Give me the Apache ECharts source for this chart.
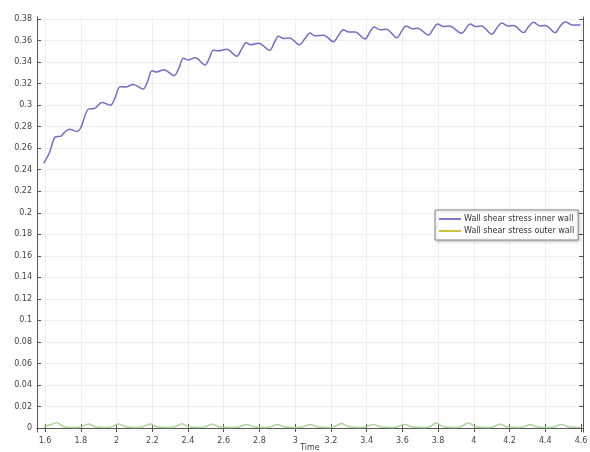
<!DOCTYPE html>
<html>
<head>
<meta charset="utf-8">
<script src="https://cdn.jsdelivr.net/npm/echarts@6/dist/echarts.min.js"></script>
<style>
  html, body { margin: 0; padding: 0; background: #ffffff; }
  #chart { width: 590px; height: 452px; }
</style>
</head>
<body>
<div id="chart"></div>
<script>
// Wall shear stress over time, inner and outer wall
const seriesNames = ['Wall shear stress inner wall', 'Wall shear stress outer wall'];

const xTicks = [1.6, 1.8, 2, 2.2, 2.4, 2.6, 2.8, 3, 3.2, 3.4, 3.6, 3.8, 4, 4.2, 4.4, 4.6];
const yTicks = [0, 0.02, 0.04, 0.06, 0.08, 0.1, 0.12, 0.14, 0.16, 0.18, 0.2,
                0.22, 0.24, 0.26, 0.28, 0.3, 0.32, 0.34, 0.36, 0.38];

// inner wall: [time, stress]
const innerWall = [
  [1.593, 0.2462], [1.625, 0.2560], [1.658, 0.2705], [1.690, 0.2712], [1.705, 0.2740],
  [1.736, 0.2776], [1.779, 0.2756], [1.800, 0.2790], [1.845, 0.2965], [1.875, 0.2968],
  [1.919, 0.3025], [1.966, 0.3000], [1.990, 0.3060], [2.021, 0.3172], [2.050, 0.3168],
  [2.093, 0.3192], [2.149, 0.3150], [2.172, 0.3210], [2.199, 0.3320], [2.225, 0.3308],
  [2.265, 0.3330], [2.322, 0.3275], [2.348, 0.3340], [2.375, 0.3436], [2.400, 0.3420],
  [2.440, 0.3440], [2.496, 0.3374], [2.520, 0.3440], [2.542, 0.3510], [2.570, 0.3505],
  [2.617, 0.3520], [2.673, 0.3455], [2.700, 0.3520], [2.726, 0.3580], [2.750, 0.3560],
  [2.795, 0.3575], [2.857, 0.3510], [2.883, 0.3580], [2.907, 0.3640], [2.935, 0.3620],
  [2.968, 0.3625], [3.024, 0.3560], [3.055, 0.3620], [3.083, 0.3670], [3.110, 0.3645],
  [3.158, 0.3650], [3.214, 0.3590], [3.243, 0.3650], [3.270, 0.3700], [3.300, 0.3680],
  [3.335, 0.3680], [3.391, 0.3615], [3.418, 0.3680], [3.442, 0.3727], [3.475, 0.3700],
  [3.510, 0.3705], [3.569, 0.3627], [3.597, 0.3690], [3.621, 0.3736], [3.655, 0.3710],
  [3.685, 0.3715], [3.746, 0.3652], [3.773, 0.3710], [3.797, 0.3755], [3.830, 0.3730],
  [3.862, 0.3735], [3.933, 0.3668], [3.957, 0.3715], [3.979, 0.3755], [4.010, 0.3730],
  [4.042, 0.3735], [4.100, 0.3660], [4.130, 0.3720], [4.157, 0.3764], [4.190, 0.3736],
  [4.222, 0.3740], [4.278, 0.3674], [4.307, 0.3730], [4.334, 0.3770], [4.370, 0.3736],
  [4.400, 0.3740], [4.455, 0.3674], [4.484, 0.3735], [4.511, 0.3776], [4.550, 0.3745],
  [4.597, 0.3745]
];

// outer wall: [time, stress]
const outerWall = [
  [1.593, 0.0012], [1.630, 0.0030], [1.667, 0.0050], [1.700, 0.0014], [1.750, 0.0005],
  [1.800, 0.0010], [1.845, 0.0038], [1.880, 0.0012], [1.930, 0.0005], [1.970, 0.0010],
  [2.013, 0.0038], [2.050, 0.0012], [2.100, 0.0005], [2.145, 0.0010], [2.190, 0.0038],
  [2.225, 0.0012], [2.280, 0.0005], [2.325, 0.0010], [2.367, 0.0040], [2.400, 0.0012],
  [2.455, 0.0005], [2.495, 0.0010], [2.535, 0.0036], [2.570, 0.0012], [2.630, 0.0005],
  [2.685, 0.0010], [2.730, 0.0032], [2.765, 0.0012], [2.820, 0.0005], [2.860, 0.0010],
  [2.900, 0.0032], [2.935, 0.0012], [2.990, 0.0005], [3.040, 0.0010], [3.083, 0.0032],
  [3.120, 0.0012], [3.170, 0.0005], [3.215, 0.0010], [3.260, 0.0042], [3.295, 0.0014],
  [3.350, 0.0005], [3.395, 0.0010], [3.438, 0.0034], [3.475, 0.0012], [3.530, 0.0005],
  [3.570, 0.0010], [3.615, 0.0034], [3.650, 0.0012], [3.705, 0.0005], [3.750, 0.0010],
  [3.790, 0.0046], [3.825, 0.0014], [3.880, 0.0005], [3.925, 0.0010], [3.970, 0.0048],
  [4.005, 0.0014], [4.060, 0.0005], [4.105, 0.0010], [4.147, 0.0036], [4.180, 0.0012],
  [4.235, 0.0005], [4.275, 0.0010], [4.315, 0.0032], [4.350, 0.0012], [4.405, 0.0005],
  [4.450, 0.0010], [4.490, 0.0034], [4.525, 0.0012], [4.597, 0.0006]
];

const axisFont = { fontFamily: 'DejaVu Sans', fontSize: 8, color: '#444444' };
const lineColor = '#555555';
const gridColor = '#efefef';

const chart = echarts.init(document.getElementById('chart'), null, { renderer: 'canvas' });

const fmt = v => String(Math.round(v * 100) / 100);

chart.setOption({
  animation: false,
  backgroundColor: '#ffffff',
  grid: { left: 37, right: 7, top: 17, bottom: 20, containLabel: false, outerBoundsMode: 'none' },
  legend: {
    orient: 'vertical',
    left: 435,
    top: 210,
    padding: [5, 4, 5, 4],
    itemGap: 4,
    itemWidth: 22,
    itemHeight: 2,
    icon: 'rect',
    backgroundColor: '#ffffff',
    borderColor: '#8a8a8a',
    borderWidth: 1,
    borderRadius: 0,
    shadowColor: 'rgba(0,0,0,0.25)',
    shadowBlur: 3,
    shadowOffsetX: 1,
    shadowOffsetY: 1,
    textStyle: { fontFamily: 'DejaVu Sans', fontSize: 8, color: '#333333', padding: [0, 0, 0, -2] },
    data: [
      { name: seriesNames[0], itemStyle: { color: '#8676d2' } },
      { name: seriesNames[1], itemStyle: { color: '#c9c23a' } }
    ]
  },
  xAxis: [{
    type: 'value',
    min: 1.555,
    max: 4.611,
    name: 'Time',
    nameLocation: 'middle',
    nameGap: 12,
    nameMoveOverlap: false,
    nameTextStyle: { fontFamily: 'DejaVu Sans', fontSize: 8, color: '#444444', verticalAlign: 'top' },
    axisLine: { show: true, lineStyle: { color: lineColor, width: 1 } },
    axisTick: { show: true, inside: true, length: 4, customValues: xTicks, lineStyle: { color: lineColor } },
    axisLabel: { ...axisFont, margin: 5, customValues: xTicks, formatter: fmt },
    splitLine: { show: true, lineStyle: { color: gridColor, width: 1 } }
  }, {
    type: 'value',
    position: 'top',
    min: 1.555,
    max: 4.611,
    axisLine: { show: true, lineStyle: { color: lineColor, width: 1 } },
    axisTick: { show: true, inside: true, length: 4, customValues: xTicks, lineStyle: { color: lineColor } },
    axisLabel: { show: false, customValues: xTicks },
    splitLine: { show: false }
  }],
  yAxis: [{
    type: 'value',
    min: -0.0037,
    max: 0.3819,
    axisLine: { show: true, lineStyle: { color: lineColor, width: 1 } },
    axisTick: { show: true, inside: true, length: 4, customValues: yTicks, lineStyle: { color: lineColor } },
    axisLabel: { ...axisFont, margin: 5, customValues: yTicks, formatter: fmt },
    splitLine: { show: true, lineStyle: { color: gridColor, width: 1 } }
  }, {
    type: 'value',
    position: 'right',
    min: -0.0037,
    max: 0.3819,
    axisLine: { show: true, lineStyle: { color: lineColor, width: 1 } },
    axisTick: { show: true, inside: true, length: 4, customValues: yTicks, lineStyle: { color: lineColor } },
    axisLabel: { show: false, customValues: yTicks },
    splitLine: { show: false }
  }],
  series: [{
    name: seriesNames[0],
    type: 'line',
    xAxisIndex: 0,
    yAxisIndex: 0,
    data: innerWall,
    smooth: 0.35,
    showSymbol: false,
    lineStyle: { color: '#7b6bc6', width: 1.5 },
    itemStyle: { color: '#7b6bc6' }
  }, {
    name: seriesNames[1],
    type: 'line',
    xAxisIndex: 0,
    yAxisIndex: 0,
    data: outerWall,
    smooth: 0.35,
    showSymbol: false,
    lineStyle: { color: '#a6d495', width: 1.4 },
    itemStyle: { color: '#a6d495' }
  }]
});
</script>
</body>
</html>
